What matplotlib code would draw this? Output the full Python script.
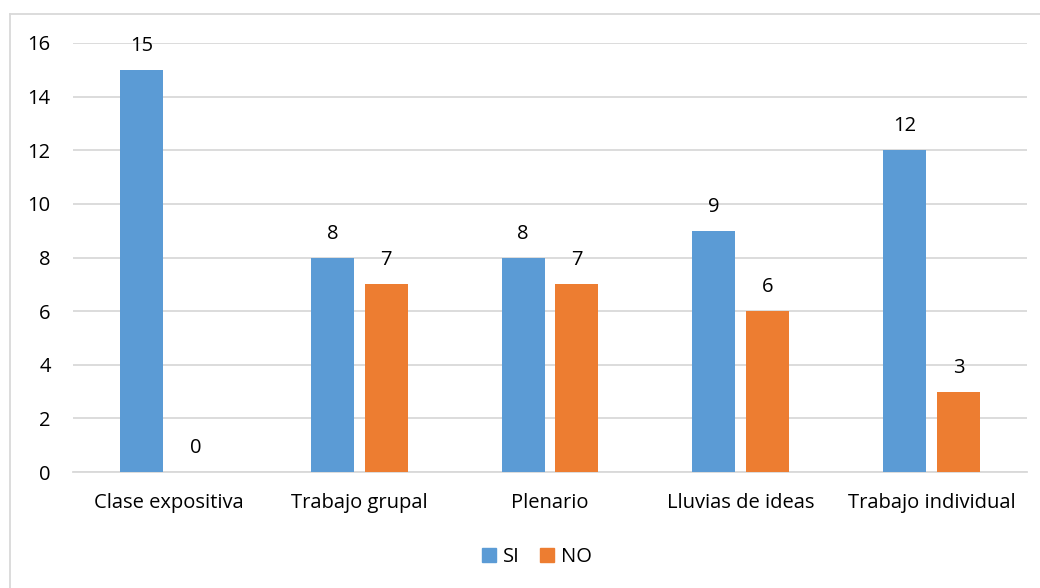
import matplotlib
matplotlib.use("Agg")
import matplotlib.pyplot as plt
import numpy as np
from matplotlib.lines import Line2D
from matplotlib.patches import Patch

categories = ["Clase expositiva", "Trabajo grupal", "Plenario", "Lluvias de ideas", "Trabajo individual"]
si_values = [15, 8, 8, 9, 12]
no_values = [0, 7, 7, 6, 3]
y_ticks = [0, 2, 4, 6, 8, 10, 12, 14, 16]

BLUE = "#5B9BD5"
ORANGE = "#ED7D31"
GRID = "#D9D9D9"
TEXT = "#000000"
FS = 14.5

plt.rcParams["font.family"] = ["Open Sans", "DejaVu Sans"]

W, H = 1040, 588
fig = plt.figure(figsize=(W / 100, H / 100), dpi=100)
ax = fig.add_axes([73 / W, 1 - 472 / H, (1027 - 73) / W, (472 - 43) / H])

x = np.arange(len(categories))
bw = 0.225
off = 0.141
b1 = ax.bar(x - off, si_values, bw, color=BLUE, label="SI", zorder=3)
b2 = ax.bar(x + off, no_values, bw, color=ORANGE, label="NO", zorder=3)

for bars, vals in ((b1, si_values), (b2, no_values)):
    for rect, v in zip(bars, vals):
        ax.annotate(str(v), (rect.get_x() + rect.get_width() / 2, v),
                    xytext=(0, 10), textcoords="offset points",
                    ha="center", va="bottom", fontsize=FS, color=TEXT)

ax.set_xlim(-0.5, len(categories) - 0.5)
ax.set_ylim(0, 16)
ax.set_yticks(y_ticks)
ax.set_xticks(x)
ax.set_xticklabels(categories)
ax.yaxis.grid(True, color=GRID, linewidth=1.3, zorder=0)
ax.set_axisbelow(True)
for s in ("top", "right", "left"):
    ax.spines[s].set_visible(False)
ax.spines["bottom"].set_color(GRID)
ax.spines["bottom"].set_linewidth(1.3)
ax.tick_params(axis="both", length=0, labelsize=FS, colors=TEXT)
ax.tick_params(axis="y", pad=16)
ax.tick_params(axis="x", pad=15)

handles = [Patch(color=BLUE, label="SI"), Patch(color=ORANGE, label="NO")]
fig.legend(handles=handles, loc="center", bbox_to_anchor=(537 / W, 1 - 557 / H),
           ncol=2, frameon=False, fontsize=FS, handlelength=0.7, handleheight=0.7,
           handletextpad=0.35, columnspacing=1.0)

# outer chart frame
fig.add_artist(Line2D([9.5 / W, 9.5 / W], [0, 1 - 14 / H], transform=fig.transFigure,
                      color=GRID, linewidth=1.3))
fig.add_artist(Line2D([9.5 / W, 1], [1 - 14 / H, 1 - 14 / H], transform=fig.transFigure,
                      color=GRID, linewidth=1.3))

fig.savefig("out.png", dpi=100)
